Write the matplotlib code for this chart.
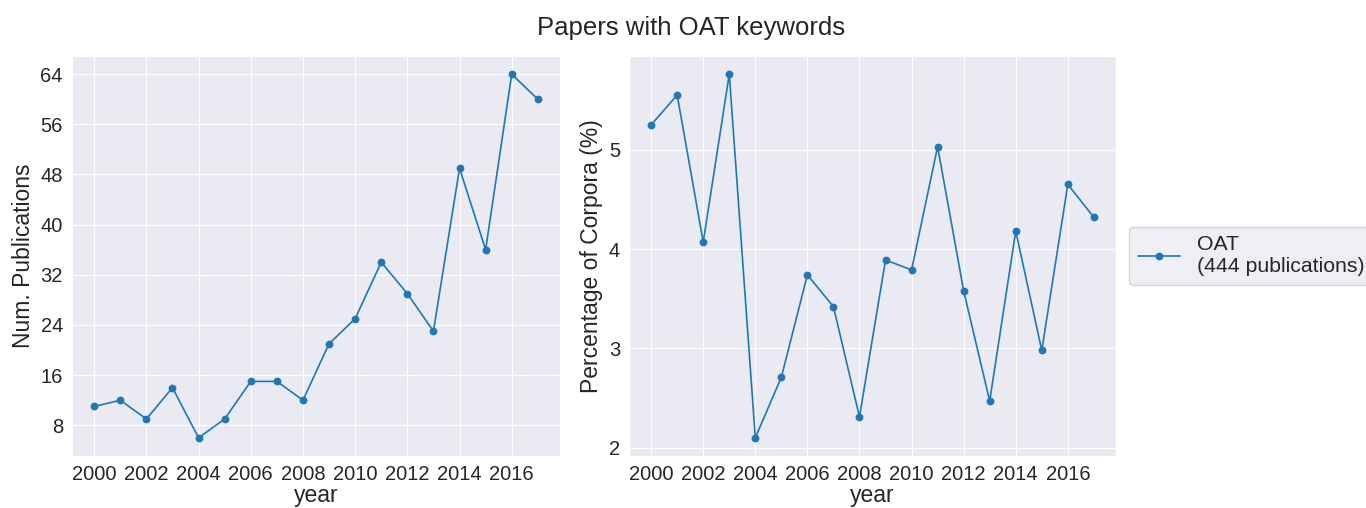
import matplotlib
matplotlib.use("Agg")
import matplotlib.pyplot as plt
import seaborn as sns

years = list(range(2000, 2018))
num_publications = [11, 12, 9, 14, 6, 9, 15, 15, 12, 21, 25, 34, 29, 23, 49, 36, 64, 60]
pct_corpora = [5.25, 5.55, 4.07, 5.76, 2.10, 2.71, 3.74, 3.42, 2.31, 3.89, 3.79,
               5.03, 3.58, 2.47, 4.18, 2.98, 4.65, 4.32]
series_name = "OAT"
left_yticks = [8, 16, 24, 32, 40, 48, 56, 64]
right_yticks = [2, 3, 4, 5]
xticks = list(range(2000, 2018, 2))

sns.set_style("darkgrid")
plt.rcParams["font.family"] = ["Liberation Sans", "DejaVu Sans"]

fig = plt.figure(figsize=(13.66, 5.08), dpi=100)
W, H = 1366, 508
ax1 = fig.add_axes([72 / W, 1 - 456 / H, (560 - 72) / W, 400 / H])
ax2 = fig.add_axes([629 / W, 1 - 456 / H, (1116 - 629) / W, 400 / H])

color = "#1f77b4"
total = sum(num_publications)
label = f"{series_name}\n({total} publications)"

ax1.plot(years, num_publications, color=color, marker="o", markersize=4.6, linewidth=1.2)
ax2.plot(years, pct_corpora, color=color, marker="o", markersize=4.6, linewidth=1.2, label=label)

ax1.set_yticks(left_yticks)
ax2.set_yticks(right_yticks)
for ax in (ax1, ax2):
    ax.set_xticks(xticks)
    ax.tick_params(labelsize=14.5, pad=3)
    ax.set_xlabel("year", fontsize=16.5, labelpad=0)

ax1.set_ylabel("Num. Publications", fontsize=16.5, labelpad=4)
ax2.set_ylabel("Percentage of Corpora (%)", fontsize=16.5, labelpad=4)

leg = ax2.legend(loc="center left", bbox_to_anchor=((1129 - 629) / 487, 0.5),
                 borderaxespad=0, fontsize=15.3,
                 frameon=True, facecolor="#EAEAF2", edgecolor="#CCCCCC",
                 handlelength=2.0)

fig.suptitle("Papers with OAT keywords", fontsize=18.5, x=0.506, y=0.969)

fig.savefig("out.png", dpi=100)
